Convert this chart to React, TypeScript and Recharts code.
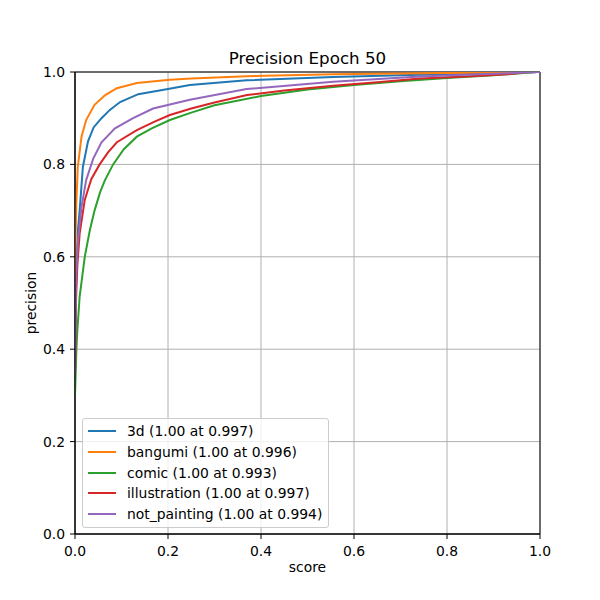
import { LineChart, Line, XAxis, YAxis, CartesianGrid, Legend, ReferenceArea } from "recharts";

const ticks = [0, 0.2, 0.4, 0.6, 0.8, 1.0];

const names = [
  "3d (1.00 at 0.997)",
  "bangumi (1.00 at 0.996)",
  "comic (1.00 at 0.993)",
  "illustration (1.00 at 0.997)",
  "not_painting (1.00 at 0.994)",
];
const colors = ["#1f77b4", "#ff7f0e", "#2ca02c", "#d62728", "#9467bd"];

const score3d = [0, 0.002, 0.0065, 0.01, 0.017, 0.028, 0.04, 0.057, 0.075, 0.097, 0.136, 0.2, 0.247, 0.369, 0.555, 0.742, 0.9, 0.997, 1.0];
const prec3d = [0.35, 0.55, 0.66, 0.7, 0.795, 0.85, 0.88, 0.9, 0.918, 0.935, 0.952, 0.963, 0.972, 0.982, 0.989, 0.994, 0.997, 1.0, 1.0];

const scoreBangumi = [0, 0.001, 0.003, 0.006, 0.014, 0.024, 0.042, 0.065, 0.09, 0.133, 0.204, 0.25, 0.369, 0.555, 0.8, 0.996, 1.0];
const precBangumi = [0.35, 0.636, 0.72, 0.795, 0.86, 0.896, 0.929, 0.95, 0.965, 0.976, 0.983, 0.986, 0.991, 0.995, 0.998, 1.0, 1.0];

const scoreComic = [0, 0.003, 0.005, 0.01, 0.021, 0.032, 0.042, 0.054, 0.064, 0.082, 0.105, 0.133, 0.165, 0.204, 0.25, 0.3, 0.4, 0.5, 0.6, 0.7, 0.8, 0.9, 0.993, 1.0];
const precComic = [0.3, 0.4, 0.44, 0.514, 0.6, 0.658, 0.7, 0.74, 0.765, 0.8, 0.833, 0.86, 0.878, 0.896, 0.912, 0.928, 0.948, 0.962, 0.972, 0.98, 0.987, 0.993, 1.0, 1.0];

const scoreIllust = [0, 0.002, 0.005, 0.01, 0.021, 0.035, 0.053, 0.071, 0.09, 0.133, 0.17, 0.204, 0.25, 0.3, 0.37, 0.45, 0.555, 0.65, 0.742, 0.85, 0.93, 0.975, 1.0];
const precIllust = [0.35, 0.5, 0.58, 0.65, 0.723, 0.768, 0.8, 0.826, 0.848, 0.874, 0.892, 0.907, 0.921, 0.934, 0.95, 0.96, 0.97, 0.978, 0.986, 0.991, 0.995, 1.0, 1.0];

const scoreNotPainting = [0, 0.002, 0.0065, 0.014, 0.024, 0.039, 0.057, 0.086, 0.125, 0.168, 0.247, 0.369, 0.555, 0.742, 0.9, 0.994, 1.0];
const precNotPainting = [0.35, 0.55, 0.636, 0.708, 0.766, 0.812, 0.848, 0.878, 0.9, 0.921, 0.94, 0.963, 0.979, 0.99, 0.996, 1.0, 1.0];

const toPoints = (s: number[], p: number[]) => s.map((score, i) => ({ score, precision: p[i] }));

const series = [
  toPoints(score3d, prec3d),
  toPoints(scoreBangumi, precBangumi),
  toPoints(scoreComic, precComic),
  toPoints(scoreIllust, precIllust),
  toPoints(scoreNotPainting, precNotPainting),
];

const font = "DejaVu Sans, sans-serif";
const tickStyle = { fontSize: 13.9, fill: "#000", fontFamily: font };

const LegendBox = ({ payload }: any) => (
  <div
    style={{
      border: "1px solid #cccccc",
      borderRadius: 3,
      background: "rgba(255,255,255,0.8)",
      padding: "2px 6px 3px 5px",
      fontFamily: font,
      fontSize: 13.9,
      color: "#000",
    }}
  >
    {(payload || []).map((entry: any) => (
      <div key={entry.value} style={{ display: "flex", alignItems: "center", height: 20.7 }}>
        <span style={{ display: "inline-block", width: 28, height: 2, background: entry.color, marginRight: 11 }} />
        <span style={{ whiteSpace: "nowrap" }}>{entry.value}</span>
      </div>
    ))}
  </div>
);

export default function App() {
  return (
    <div style={{ position: "absolute", left: 0, top: 0, width: 600, height: 600, background: "#fff" }}>
      <div
        style={{
          position: "absolute",
          left: 75,
          top: 48,
          width: 465,
          textAlign: "center",
          fontFamily: font,
          fontSize: 16.7,
          lineHeight: "20px",
        }}
      >
        Precision Epoch 50
      </div>
      <LineChart width={600} height={600} margin={{ top: 72, right: 60, bottom: 0, left: 0 }}>
        <CartesianGrid stroke="#b0b0b0" strokeWidth={1} />
        <XAxis
          type="number"
          dataKey="score"
          domain={[0, 1]}
          ticks={ticks}
          allowDataOverflow
          height={66}
          stroke="#000"
          tickSize={5}
          tickMargin={7}
          tick={tickStyle}
          tickFormatter={(v: number) => v.toFixed(1)}
          label={{ value: "score", position: "insideBottom", offset: 28, style: { fontSize: 13.9, fill: "#000", fontFamily: font } }}
        />
        <YAxis
          type="number"
          dataKey="precision"
          domain={[0, 1]}
          ticks={ticks}
          allowDataOverflow
          width={75}
          stroke="#000"
          tickSize={5}
          tickMargin={5}
          tick={tickStyle}
          tickFormatter={(v: number) => v.toFixed(1)}
          label={{
            value: "precision",
            angle: -90,
            position: "insideLeft",
            offset: 31,
            style: { fontSize: 13.9, fill: "#000", fontFamily: font, textAnchor: "middle" },
          }}
        />
        {series.map((d, i) => (
          <Line
            key={names[i]}
            data={d}
            dataKey="precision"
            name={names[i]}
            type="linear"
            stroke={colors[i]}
            strokeWidth={2}
            dot={false}
            activeDot={false}
            isAnimationActive={false}
          />
        ))}
        <ReferenceArea x1={0} x2={1} y1={0} y2={1} fill="none" stroke="#000" strokeWidth={1} fillOpacity={0} />
        <Legend
          layout="vertical"
          align="center"
          verticalAlign="middle"
          content={<LegendBox />}
          wrapperStyle={{ left: 82, top: 418, width: "auto" }}
        />
      </LineChart>
    </div>
  );
}
